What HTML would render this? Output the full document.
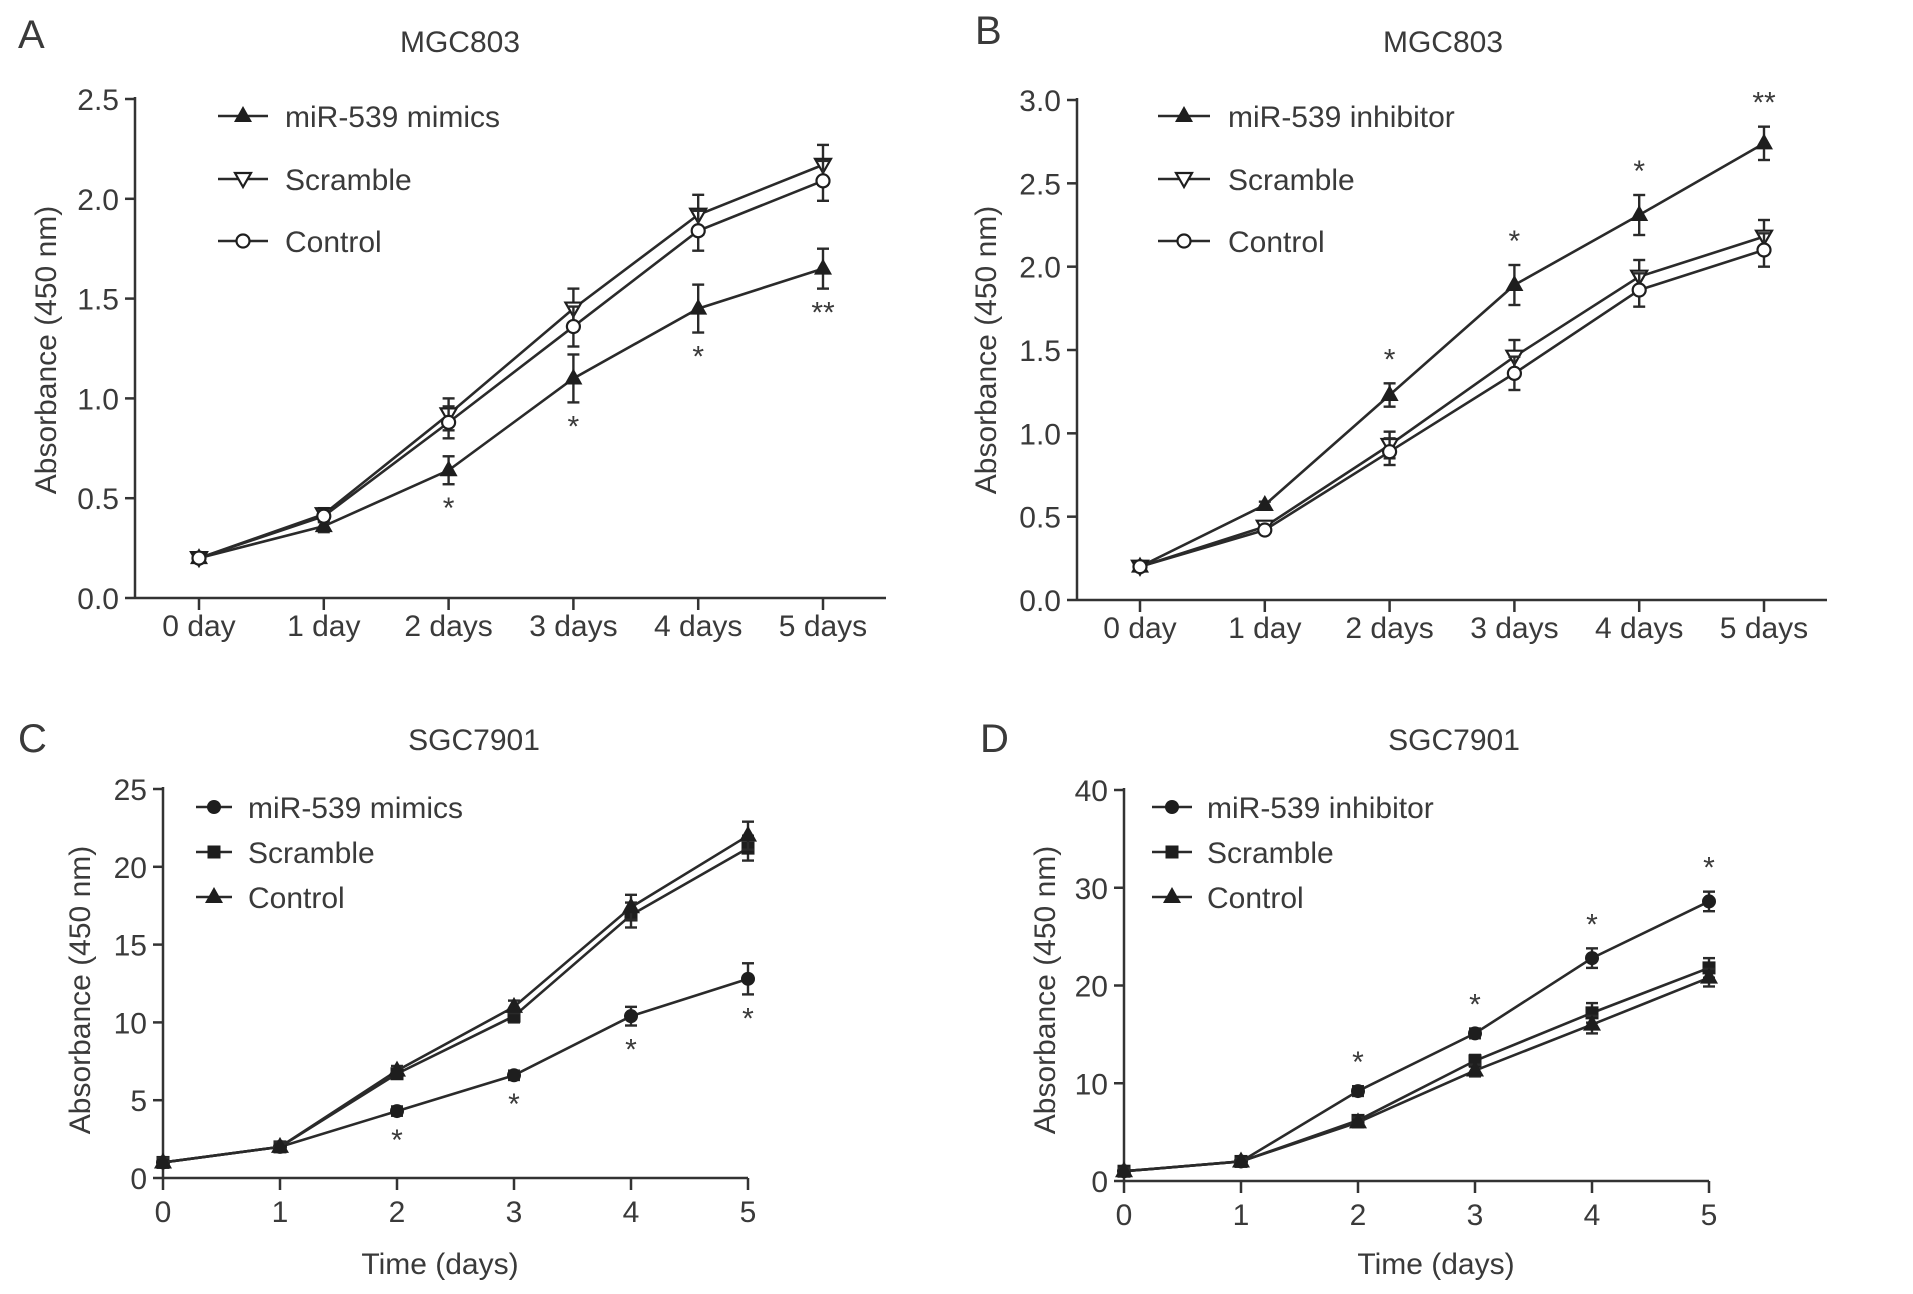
<!DOCTYPE html>
<html><head><meta charset="utf-8">
<style>
html,body{margin:0;padding:0;background:#fff}
svg{display:block}
text{font-family:"Liberation Sans",sans-serif;fill:#3a3a3a}
</style></head>
<body>
<svg id="fig" width="1913" height="1294" viewBox="0 0 1913 1294" xmlns="http://www.w3.org/2000/svg"></svg>
<script>
// ---- data ----
const dayLabelsAB = ["0 day","1 day","2 days","3 days","4 days","5 days"];
const dayLabelsCD = ["0","1","2","3","4","5"];
const yTicksAB_A = [0,0.5,1.0,1.5,2.0,2.5];
const yTicksAB_B = [0,0.5,1.0,1.5,2.0,2.5,3.0];
const yTicksC = [0,5,10,15,20,25];
const yTicksD = [0,10,20,30,40];

const aMimics = [0.20,0.36,0.64,1.10,1.45,1.65];
const aMimicsErr = [0.02,0.03,0.07,0.12,0.12,0.10];
const aScramble = [0.20,0.42,0.92,1.45,1.92,2.17];
const aScrambleErr = [0.02,0.03,0.08,0.10,0.10,0.10];
const aControl = [0.20,0.41,0.88,1.36,1.84,2.09];
const aControlErr = [0.02,0.03,0.08,0.10,0.10,0.10];
const aStars = ["","","*","*","*","**"];

const bInhibitor = [0.20,0.57,1.23,1.89,2.31,2.74];
const bInhibitorErr = [0.02,0.02,0.07,0.12,0.12,0.10];
const bScramble = [0.20,0.44,0.93,1.46,1.94,2.18];
const bScrambleErr = [0.02,0.02,0.08,0.10,0.10,0.10];
const bControl = [0.20,0.42,0.89,1.36,1.86,2.10];
const bControlErr = [0.02,0.02,0.08,0.10,0.10,0.10];
const bStars = ["","","*","*","*","**"];

const cMimics = [1,2,4.3,6.6,10.4,12.8];
const cMimicsErr = [0.3,0.3,0.3,0.3,0.6,1.0];
const cScramble = [1,2,6.7,10.4,16.9,21.2];
const cScrambleErr = [0.3,0.3,0.3,0.4,0.8,0.8];
const cControl = [1,2,6.9,11.0,17.4,22.0];
const cControlErr = [0.3,0.3,0.3,0.4,0.8,0.9];
const cStars = ["","","*","*","*","*"];

const dInhibitor = [1,2,9.2,15.1,22.8,28.6];
const dInhibitorErr = [0.3,0.3,0.5,0.5,1.0,1.0];
const dScramble = [1,2,6.2,12.3,17.2,21.8];
const dScrambleErr = [0.3,0.3,0.5,0.6,1.0,1.0];
const dControl = [1,2,6.0,11.3,16.0,20.8];
const dControlErr = [0.3,0.3,0.5,0.6,0.9,0.9];
const dStars = ["","","*","*","*","*"];

const NS = "http://www.w3.org/2000/svg";
const svg = document.getElementById('fig');
function mk(tag, attrs, parent){
  const e = document.createElementNS(NS, tag);
  for (const k in attrs) e.setAttribute(k, attrs[k]);
  (parent||svg).appendChild(e);
  return e;
}
function marker(g, type, x, y, s){
  const col = "#1e1e1e";
  let e;
  if (type==="tri") e = mk('polygon',{points:`${x},${y-s} ${x-s*0.9},${y+s*0.6} ${x+s*0.9},${y+s*0.6}`,fill:col},g);
  else if (type==="itri") e = mk('polygon',{points:`${x},${y+s*0.8} ${x-s*0.8},${y-s*0.6} ${x+s*0.8},${y-s*0.6}`,fill:"#fff",stroke:col,"stroke-width":2.2},g);
  else if (type==="circ") e = mk('circle',{cx:x,cy:y,r:s*0.65,fill:"#fff",stroke:col,"stroke-width":2.2},g);
  else if (type==="dot") e = mk('circle',{cx:x,cy:y,r:s*0.7,fill:col},g);
  else if (type==="sq") e = mk('rect',{x:x-s*0.65,y:y-s*0.65,width:s*1.3,height:s*1.3,fill:col},g);
  return e;
}

function panel(cfg){
  const g = mk('g',{});
  
  
  const xs = i => cfg.x0 + (cfg.x5 - cfg.x0) * i / 5;
  const ys = v => cfg.yBot - (cfg.yBot - cfg.yTop) * v / cfg.yMax;
  let t = mk('text',{x:cfg.letterX,y:cfg.letterY,"font-size":40},g); t.textContent = cfg.letter;
   
  t = mk('text',{x:cfg.titleX,y:cfg.titleY,"font-size":30,"text-anchor":"middle"},g); t.textContent = cfg.title;
   
  const ax = mk('g',{stroke:"#333","stroke-width":2.5,fill:"none"},g);
   
  mk('line',{x1:cfg.axX,y1:cfg.yTop-2,x2:cfg.axX,y2:cfg.yBot},ax);
  mk('line',{x1:cfg.axX,y1:cfg.yBot,x2:cfg.axEnd,y2:cfg.yBot},ax);
  cfg.yTicks.forEach((v,i)=>{
    mk('line',{x1:cfg.axX-10,y1:ys(v),x2:cfg.axX,y2:ys(v)},ax);
    const tl = mk('text',{x:cfg.axX-16,y:ys(v)+11,"font-size":30,"text-anchor":"end"},g);
    tl.textContent = cfg.yFmt(v);
     
  });
  cfg.xLabels.forEach((lab,i)=>{
    mk('line',{x1:xs(i),y1:cfg.yBot,x2:xs(i),y2:cfg.yBot+12},ax);
    const tl = mk('text',{x:xs(i),y:cfg.yBot+cfg.xLabOff,"font-size":30,"text-anchor":"middle"},g);
    tl.textContent = lab;
     
  });
  t = mk('text',{x:0,y:0,"font-size":30,"text-anchor":"middle",transform:`translate(${cfg.yTitleX},${cfg.yTitleY}) rotate(-90)`},g);
  t.textContent = "Absorbance (450 nm)";
   
  if (cfg.xTitle){
    t = mk('text',{x:cfg.xTitleX,y:cfg.xTitleY,"font-size":30,"text-anchor":"middle"},g);
    t.textContent = cfg.xTitle;
     
  }
  cfg.series.forEach(s=>{
    const sg = mk('g',{},g);
    
    
    const pts = s.vals.map((v,i)=>`${xs(i)},${ys(v)}`).join(' ');
    mk('polyline',{points:pts,fill:"none",stroke:"#2a2a2a","stroke-width":2.6},sg);
    s.vals.forEach((v,i)=>{
      const e = s.err[i], x = xs(i);
      const eb = mk('g',{stroke:"#2a2a2a","stroke-width":2.4},sg);
      mk('line',{x1:x,y1:ys(v+e),x2:x,y2:ys(v-e)},eb);
      mk('line',{x1:x-6,y1:ys(v+e),x2:x+6,y2:ys(v+e)},eb);
      mk('line',{x1:x-6,y1:ys(v-e),x2:x+6,y2:ys(v-e)},eb);
      marker(sg, s.m, x, ys(v), 10);
    });
  });
  const ref = cfg.series[0];
  cfg.stars.forEach((st,i)=>{
    if(!st) return;
    const v = ref.vals[i], e = ref.err[i];
    const y = cfg.starAbove ? ys(v+e) - 14 : ys(v-e) + 34;
    const s = mk('text',{x:xs(i),y:y,"font-size":30,"text-anchor":"middle"},g);
    s.textContent = st;
     
  });
  cfg.series.forEach((s,k)=>{
    const lg = mk('g',{},g);
    
    
    const y = cfg.legY[k];
    mk('line',{x1:cfg.legX1,y1:y,x2:cfg.legX2,y2:y,stroke:"#2a2a2a","stroke-width":2.6},lg);
    marker(lg, s.m, (cfg.legX1+cfg.legX2)/2, y, 10);
    const lt = mk('text',{x:cfg.legTX,y:y+11,"font-size":30},lg);
    lt.textContent = s.label;
  });
}

const fmt1 = v => v.toFixed(1);
const fmt0 = v => String(v);

panel({id:"panel-a",letter:"A",letterX:18,letterY:48,title:"MGC803",titleX:460,titleY:52,
  axX:135,axEnd:886,x0:199,x5:823,yTop:99,yBot:598,yMax:2.5,yTicks:yTicksAB_A,yFmt:fmt1,
  xLabels:dayLabelsAB,xLabOff:38,yTitleX:56,yTitleY:350,
  series:[{name:"series-mir539-mimics",label:"miR-539 mimics",vals:aMimics,err:aMimicsErr,m:"tri"},
          {name:"series-scramble",label:"Scramble",vals:aScramble,err:aScrambleErr,m:"itri"},
          {name:"series-control",label:"Control",vals:aControl,err:aControlErr,m:"circ"}],
  stars:aStars,starAbove:false,legX1:218,legX2:268,legTX:285,legY:[116,179,241]});

panel({id:"panel-b",letter:"B",letterX:975,letterY:44,title:"MGC803",titleX:1443,titleY:52,
  axX:1077,axEnd:1827,x0:1140,x5:1764,yTop:100,yBot:600,yMax:3.0,yTicks:yTicksAB_B,yFmt:fmt1,
  xLabels:dayLabelsAB,xLabOff:38,yTitleX:996,yTitleY:350,
  series:[{name:"series-mir539-inhibitor",label:"miR-539 inhibitor",vals:bInhibitor,err:bInhibitorErr,m:"tri"},
          {name:"series-scramble",label:"Scramble",vals:bScramble,err:bScrambleErr,m:"itri"},
          {name:"series-control",label:"Control",vals:bControl,err:bControlErr,m:"circ"}],
  stars:bStars,starAbove:true,legX1:1158,legX2:1210,legTX:1228,legY:[116,179,241]});

panel({id:"panel-c",letter:"C",letterX:18,letterY:752,title:"SGC7901",titleX:474,titleY:750,
  axX:163,axEnd:748,x0:163,x5:748,yTop:789,yBot:1178,yMax:25,yTicks:yTicksC,yFmt:fmt0,
  xLabels:dayLabelsCD,xLabOff:44,yTitleX:90,yTitleY:990,xTitle:"Time (days)",xTitleX:440,xTitleY:1274,
  series:[{name:"series-mir539-mimics",label:"miR-539 mimics",vals:cMimics,err:cMimicsErr,m:"dot"},
          {name:"series-scramble",label:"Scramble",vals:cScramble,err:cScrambleErr,m:"sq"},
          {name:"series-control",label:"Control",vals:cControl,err:cControlErr,m:"tri"}],
  stars:cStars,starAbove:false,legX1:196,legX2:232,legTX:248,legY:[807,852,897]});

panel({id:"panel-d",letter:"D",letterX:980,letterY:752,title:"SGC7901",titleX:1454,titleY:750,
  axX:1124,axEnd:1709,x0:1124,x5:1709,yTop:790,yBot:1181,yMax:40,yTicks:yTicksD,yFmt:fmt0,
  xLabels:dayLabelsCD,xLabOff:44,yTitleX:1055,yTitleY:990,xTitle:"Time (days)",xTitleX:1436,xTitleY:1274,
  series:[{name:"series-mir539-inhibitor",label:"miR-539 inhibitor",vals:dInhibitor,err:dInhibitorErr,m:"dot"},
          {name:"series-scramble",label:"Scramble",vals:dScramble,err:dScrambleErr,m:"sq"},
          {name:"series-control",label:"Control",vals:dControl,err:dControlErr,m:"tri"}],
  stars:dStars,starAbove:true,legX1:1152,legX2:1192,legTX:1207,legY:[807,852,897]});
</script>
</body></html>
